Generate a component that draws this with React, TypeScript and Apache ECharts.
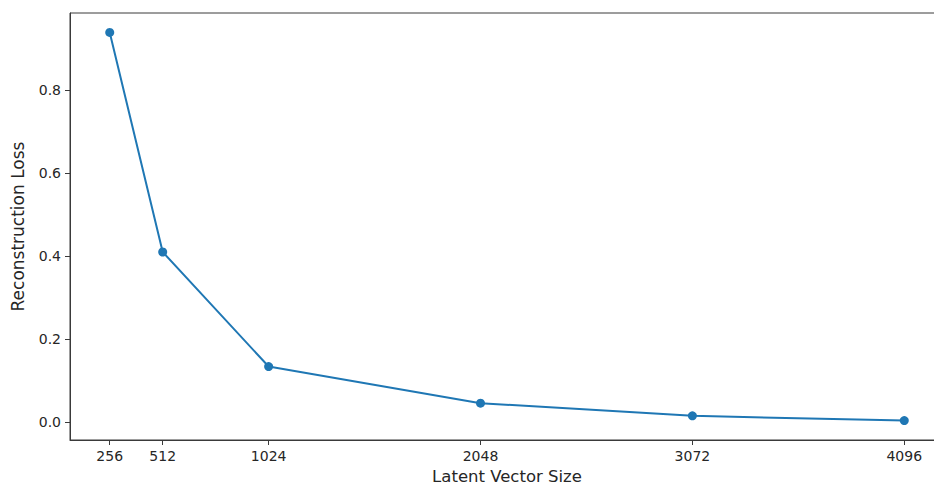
import React, { useEffect, useRef } from "react";
import * as echarts from "echarts";

// Latent sizes tested and the reconstruction loss reached at each
const latentSizes = [256, 512, 1024, 2048, 3072, 4096];
const reconLoss = [0.94, 0.41, 0.1335, 0.045, 0.0145, 0.003];
const yTicks = [0, 0.2, 0.4, 0.6, 0.8];

const TEXT = "#262626";
const SPINE = "#3a3a3a";
const BLUE = "#1f77b4";

// matplotlib-style 5% padding around the data extent
function padded(vals: number[]) {
  const lo = Math.min(...vals);
  const hi = Math.max(...vals);
  const m = (hi - lo) * 0.05;
  return [lo - m, hi + m];
}

export default function App() {
  const ref = useRef<HTMLDivElement>(null);

  useEffect(() => {
    if (!ref.current) return;
    const chart = echarts.init(ref.current, undefined, { renderer: "svg" });
    const [xMin, xMax] = padded(latentSizes);
    const [yMin, yMax] = padded(reconLoss);
    chart.setOption({
      animation: false,
      backgroundColor: "#fff",
      grid: {
        left: 70,
        top: 13,
        right: -10,
        bottom: 45,
        outerBoundsMode: "none",
        containLabel: false,
        show: true,
        borderColor: SPINE,
        borderWidth: 1,
        backgroundColor: "transparent",
      },
      xAxis: {
        type: "value",
        min: xMin,
        max: xMax,
        name: "Latent Vector Size",
        nameLocation: "middle",
        nameGap: 28,
        nameTextStyle: {
          fontFamily: "DejaVu Sans",
          fontSize: 16.5,
          lineHeight: 14,
          color: TEXT,
        },
        axisLine: { show: true, onZero: false, lineStyle: { color: SPINE, width: 1 } },
        axisTick: {
          show: true,
          length: 5,
          customValues: latentSizes,
          lineStyle: { color: SPINE },
        },
        axisLabel: {
          customValues: latentSizes,
          margin: 9,
          fontFamily: "DejaVu Sans",
          fontSize: 14,
          color: TEXT,
          formatter: (v: number) => String(v),
        },
        splitLine: { show: false },
      },
      yAxis: {
        type: "value",
        min: yMin,
        max: yMax,
        name: "Reconstruction Loss",
        nameLocation: "middle",
        nameGap: 44,
        nameTextStyle: { fontFamily: "DejaVu Sans", fontSize: 17, color: TEXT },
        axisLine: { show: true, onZero: false, lineStyle: { color: SPINE, width: 1 } },
        axisTick: {
          show: true,
          length: 5,
          customValues: yTicks,
          lineStyle: { color: SPINE },
        },
        axisLabel: {
          customValues: yTicks,
          margin: 9,
          fontFamily: "DejaVu Sans",
          fontSize: 14,
          color: TEXT,
          formatter: (v: number) => v.toFixed(1),
        },
        splitLine: { show: false },
      },
      series: [
        {
          type: "line",
          data: latentSizes.map((s, i) => [s, reconLoss[i]]),
          symbol: "circle",
          symbolSize: 9,
          showSymbol: true,
          lineStyle: { color: BLUE, width: 2 },
          itemStyle: { color: BLUE },
        },
      ],
    });
    return () => chart.dispose();
  }, []);

  return <div ref={ref} style={{ width: 934, height: 485, position: "absolute", left: 0, top: 0 }} />;
}
